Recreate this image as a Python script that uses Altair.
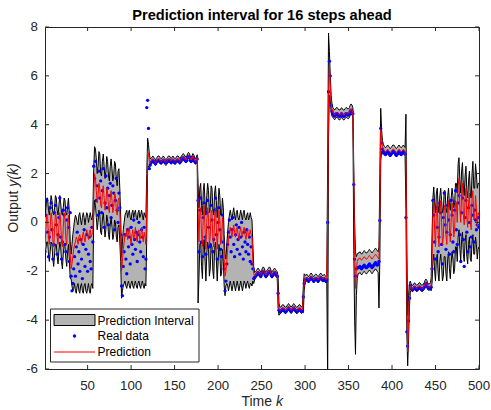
import altair as alt
import pandas as pd

# ---------------- data ----------------
title_text = "Prediction interval for 16 steps ahead"
legend_labels = ["Prediction Interval", "Real data", "Prediction"]
x_ticks = [50, 100, 150, 200, 250, 300, 350, 400, 450, 500]
y_ticks = [-6, -4, -2, 0, 2, 4, 6, 8]
x_range = [1, 500]
y_range = [-6, 8]

# first time step k of each operating segment
seg_start = [1, 31, 57, 89, 118, 177, 209, 240, 269, 298, 326, 356, 386, 417, 446]

pred_A = [-0.9, -0.3, 0.3, 0.2, -0.6, -0.9, -0.2, 0.4, 0.1, -0.7,
          -1.0, -0.3, 0.4, 0.2, -0.6, -0.9, -0.1, 0.4, 0.0, -0.8,
          -1.0, -0.2, 0.4, 0.1, -0.7, -0.9, -0.1, 0.3, -0.5, -1.3]
upper_A = [0.2, 0.6, 1.0, 1.0, 0.5, 0.3, 0.7, 1.1, 0.9, 0.4,
           0.3, 0.6, 1.1, 1.0, 0.5, 0.3, 0.7, 1.1, 0.8, 0.4,
           0.3, 0.6, 1.0, 0.9, 0.4, 0.3, 0.7, 1.0, 0.4, -0.8]
lower_A = [-1.4, -1.1, -0.8, -0.8, -1.3, -1.6, -1.2, -0.8, -0.9, -1.5,
           -1.8, -1.3, -0.9, -0.9, -1.4, -1.7, -1.2, -0.8, -1.0, -1.6,
           -1.9, -1.3, -0.9, -1.0, -1.5, -1.8, -1.2, -0.9, -1.6, -2.3]
real_A = [-1.2, 0.3, 0.9, -0.4, -1.4, -0.6, 0.6, 0.8, -0.3, -1.5,
          -0.9, 0.4, 0.7, -0.1, -1.3, -0.5, 0.2, 1.0, -0.6, -1.5,
          -0.8, 0.5, 0.3, -0.9, -1.2, 0.1, 0.6, -0.2, -1.6, 0.4]

pred_B = [-1.9, -1.7, -1.4, -1.1, -0.9, -0.8, -0.6, -0.7, -0.9, -0.6,
          -0.5, -0.7, -0.9, -0.6, -0.4, -0.6, -0.8, -0.5, -0.3, -0.5,
          -0.7, -0.4, -0.3, -0.6, -0.5, -0.4]
upper_B = [-1.3, -0.9, -0.5, -0.2, 0.1, 0.3, 0.2, 0.0, -0.1, 0.3,
           0.4, 0.1, -0.1, 0.2, 0.4, 0.2, -0.1, 0.2, 0.4, 0.3,
           0.0, 0.2, 0.4, 0.2, 0.1, 0.4]
lower_B = [-2.3, -2.6, -2.8, -2.7, -2.5, -2.8, -2.9, -2.6, -2.5, -2.8,
           -2.9, -2.6, -2.5, -2.8, -2.9, -2.6, -2.5, -2.8, -2.9, -2.7,
           -2.5, -2.8, -2.9, -2.6, -2.5, -2.7]
real_B = [-2.2, -2.8, -2.5, -1.9, -1.4, -2.2, -1.0, -0.4, -1.7, -1.2,
          -2.0, -0.7, -1.5, -2.3, -0.9, -0.3, -1.8, -1.1, -0.5, -2.0,
          -1.3, -0.6, -1.6, -1.9, -0.2, -0.8]

pred_C = [1.2, 2.0, 1.8, 1.3, 0.8, 1.1, 1.6, 1.4, 0.7, 0.6,
          1.2, 1.5, 1.0, 0.5, 0.8, 1.4, 1.2, 0.6, 0.4, 1.0,
          1.3, 0.9, 0.4, 0.6, 1.2, 1.1, 0.5, 0.3, 0.9, 1.0,
          0.4, -0.4]
upper_C = [2.2, 3.1, 3.0, 2.6, 2.0, 2.3, 2.9, 2.8, 2.0, 1.9,
           2.5, 2.8, 2.3, 1.8, 2.1, 2.7, 2.5, 1.9, 1.7, 2.3,
           2.6, 2.2, 1.7, 1.9, 2.5, 2.4, 1.8, 1.5, 2.1, 2.2,
           1.4, 0.3]
lower_C = [0.2, 0.9, 0.7, 0.2, -0.3, 0.0, 0.5, 0.3, -0.4, -0.5,
           0.1, 0.4, -0.1, -0.6, -0.3, 0.3, 0.1, -0.5, -0.7, -0.1,
           0.2, -0.2, -0.7, -0.5, 0.1, 0.0, -0.6, -0.8, -0.2, -0.1,
           -0.8, -1.6]
real_C = [2.3, 1.8, 2.5, 0.9, 1.5, 0.3, 2.1, 1.0, 1.7, 0.4,
          1.3, 2.2, -0.2, 0.8, 1.9, 0.6, 1.4, -0.1, 1.1, 1.6,
          0.2, 0.7, 1.5, 1.2, -0.3, 0.9, 1.8, 0.5, 0.0, 1.2,
          0.6, -0.5]

pred_D = [-2.0, -1.6, -1.1, -0.8, -0.5, -0.6, -0.3, -0.7, -0.4, -0.2,
          -0.6, -0.9, -0.5, -0.3, -0.7, -0.5, -0.2, -0.6, -0.8, -0.4,
          -0.3, -0.7, -0.6, -0.2, -0.5, -0.8, -0.4, -0.6, -0.9]
upper_D = [-1.4, -0.8, -0.3, 0.0, 0.3, 0.4, 0.5, 0.2, 0.4, 0.5,
           0.2, 0.1, 0.4, 0.5, 0.2, 0.4, 0.5, 0.2, 0.1, 0.4,
           0.5, 0.2, 0.3, 0.5, 0.3, 0.1, 0.4, 0.3, 0.2]
lower_D = [-3.1, -2.8, -2.6, -2.5, -2.4, -2.6, -2.7, -2.5, -2.4, -2.6,
           -2.7, -2.5, -2.4, -2.6, -2.7, -2.5, -2.4, -2.6, -2.7, -2.5,
           -2.4, -2.6, -2.7, -2.5, -2.4, -2.6, -2.7, -2.5, -2.6]
real_D = [-2.6, -3.0, -1.8, -1.2, -0.5, -1.5, -2.1, -0.3, -1.0, -0.6,
          -1.7, -0.2, -0.9, -1.3, 0.1, -0.7, -1.1, -0.4, -1.6, -0.5,
          0.0, -0.8, -1.2, -0.3, -0.6, -1.4, -0.2, -1.9, -1.5]

pred_E = [0.8, 2.9, 2.8, 2.5, 2.45,
          2.5, 2.55, 2.6, 2.55, 2.5, 2.45, 2.5, 2.55, 2.6, 2.6,
          2.55, 2.5, 2.5, 2.55, 2.6, 2.55, 2.5, 2.45, 2.5, 2.55,
          2.6, 2.6, 2.55, 2.5, 2.55, 2.6, 2.55, 2.5, 2.5, 2.55,
          2.6, 2.6, 2.55, 2.5, 2.55, 2.6, 2.65, 2.7, 2.65, 2.6,
          2.55, 2.6, 2.7, 2.75, 2.7, 2.6, 2.55, 2.6, 2.7, 2.65,
          2.55, 2.5, 2.55, 2.65]
upper_E = [2.0, 3.45, 3.2, 2.8, 2.6,
           2.62, 2.67, 2.72, 2.67, 2.62, 2.57, 2.62, 2.67, 2.72, 2.72,
           2.67, 2.62, 2.62, 2.67, 2.72, 2.67, 2.62, 2.57, 2.62, 2.67,
           2.72, 2.72, 2.67, 2.62, 2.67, 2.72, 2.67, 2.62, 2.62, 2.67,
           2.72, 2.72, 2.67, 2.62, 2.67, 2.72, 2.77, 2.82, 2.77, 2.72,
           2.67, 2.72, 2.82, 2.87, 2.82, 2.72, 2.67, 2.72, 2.82, 2.77,
           2.67, 2.62, 2.67, 2.77]
lower_E = [-0.6, 2.2, 2.3, 2.25, 2.32,
           2.38, 2.43, 2.48, 2.43, 2.38, 2.33, 2.38, 2.43, 2.48, 2.48,
           2.43, 2.38, 2.38, 2.43, 2.48, 2.43, 2.38, 2.33, 2.38, 2.43,
           2.48, 2.48, 2.43, 2.38, 2.43, 2.48, 2.43, 2.38, 2.38, 2.43,
           2.48, 2.48, 2.43, 2.38, 2.43, 2.48, 2.53, 2.58, 2.53, 2.48,
           2.43, 2.48, 2.58, 2.63, 2.58, 2.48, 2.43, 2.48, 2.58, 2.53,
           2.43, 2.38, 2.43, 2.53]
real_E = [4.7, 5.0, 3.85, 2.2, 2.35,
          2.45, 2.5, 2.55, 2.5, 2.45, 2.4, 2.5, 2.5, 2.55, 2.55,
          2.5, 2.45, 2.5, 2.5, 2.55, 2.5, 2.45, 2.45, 2.5, 2.5,
          2.55, 2.55, 2.5, 2.45, 2.5, 2.55, 2.5, 2.45, 2.5, 2.5,
          2.55, 2.55, 2.5, 2.45, 2.5, 2.6, 2.6, 2.65, 2.6, 2.55,
          2.5, 2.55, 2.65, 2.7, 2.65, 2.55, 2.5, 2.55, 2.65, 2.6,
          2.5, 2.45, 2.5, 2.6]

pred_F = [0.5, -0.8, 0.4, 0.6, -0.5, -1.0, 0.3, 0.7, -0.3, -1.1,
          0.0, 0.6, 0.2, -0.9, -0.6, 0.5, 0.4, -0.7, -1.0, 0.2,
          0.6, -0.2, -1.1, -0.4, 0.5, 0.1, -0.9, -0.8, 0.2, -0.3,
          -1.5, -2.2]
upper_F = [1.6, 0.6, 1.4, 1.6, 0.7, 0.3, 1.3, 1.6, 0.8, 0.3,
           1.1, 1.6, 1.3, 0.4, 0.6, 1.5, 1.4, 0.5, 0.3, 1.2,
           1.5, 0.9, 0.2, 0.7, 1.4, 1.1, 0.3, 0.3, 1.0, 0.6,
           -0.5, -1.3]
lower_F = [-3.3, -2.3, -0.9, -0.8, -1.8, -2.3, -1.0, -0.7, -1.6, -2.4,
           -1.3, -0.8, -1.1, -2.2, -1.9, -0.9, -1.0, -2.0, -2.3, -1.1,
           -0.8, -1.5, -2.4, -1.7, -0.9, -1.2, -2.2, -2.1, -1.1, -1.6,
           -2.6, -3.0]
real_F = [0.9, -1.2, 0.5, 1.0, -0.8, -1.4, 0.2, 0.8, -0.6, -1.3,
          0.4, 0.9, -0.2, -1.0, -0.9, 0.7, 0.1, -1.2, -0.7, 0.5,
          1.0, -0.5, -1.5, 0.0, 0.6, -0.3, -1.1, -1.4, 0.3, -0.8,
          -1.9, -2.8]

pred_G = [-2.0, -1.6, -1.1, -0.7, -0.4, -0.2, -0.4, -0.6, -0.3, -0.1,
          -0.4, -0.6, -0.3, -0.2, -0.5, -0.7, -0.4, -0.2, -0.5, -0.6,
          -0.3, -0.2, -0.5, -0.7, -0.4, -0.3, -0.6, -0.5, -0.3, -0.5,
          -0.6]
upper_G = [-1.5, -0.9, -0.4, 0.0, 0.3, 0.5, 0.3, 0.1, 0.4, 0.6,
           0.3, 0.1, 0.4, 0.5, 0.2, 0.1, 0.3, 0.5, 0.3, 0.1,
           0.4, 0.5, 0.2, 0.1, 0.3, 0.4, 0.1, 0.2, 0.4, 0.2,
           0.1]
lower_G = [-2.6, -2.5, -2.6, -2.8, -2.6, -2.4, -2.6, -2.8, -2.6, -2.4,
           -2.6, -2.8, -2.6, -2.4, -2.6, -2.8, -2.6, -2.4, -2.6, -2.8,
           -2.6, -2.4, -2.5, -2.7, -2.5, -2.4, -2.6, -2.7, -2.5, -2.5,
           -2.6]
real_G = [-2.4, -1.7, -0.9, -0.4, 0.1, -0.6, -1.2, -0.3, 0.2, -0.9,
          -1.4, -0.5, -0.1, -1.1, -0.7, -0.2, -1.3, -0.6, 0.0, -1.0,
          -1.5, -0.4, -0.8, -1.2, -0.3, -0.9, -1.3, -0.6, -1.6, -1.0,
          -1.7]

pred_H = [-1.6, -2.1, -2.2, -2.15, -2.1, -2.05, -2.0, -2.05, -2.1, -2.15,
          -2.1, -2.0, -1.95, -2.0, -2.1, -2.15, -2.1, -2.05, -2.0, -1.95,
          -2.0, -2.1, -2.15, -2.1, -2.05, -2.0, -2.05, -2.1, -2.15]
upper_H = [-0.9, -1.8, -2.05, -2.02, -1.97, -1.92, -1.87, -1.92, -1.97, -2.02,
           -1.97, -1.87, -1.82, -1.87, -1.97, -2.02, -1.97, -1.92, -1.87, -1.82,
           -1.87, -1.97, -2.02, -1.97, -1.92, -1.87, -1.92, -1.97, -2.02]
lower_H = [-2.4, -2.5, -2.35, -2.28, -2.23, -2.18, -2.13, -2.18, -2.23, -2.28,
           -2.23, -2.13, -2.08, -2.13, -2.23, -2.28, -2.23, -2.18, -2.13, -2.08,
           -2.13, -2.23, -2.28, -2.23, -2.18, -2.13, -2.18, -2.23, -2.28]
real_H = [-1.9, -2.3, -2.25, -2.2, -2.15, -2.1, -2.05, -2.1, -2.15, -2.2,
          -2.1, -2.05, -2.0, -2.05, -2.15, -2.2, -2.15, -2.1, -2.05, -2.0,
          -2.05, -2.15, -2.2, -2.15, -2.1, -2.05, -2.1, -2.15, -2.2]

pred_I = [-3.0, -3.5, -3.6, -3.6, -3.55, -3.5, -3.5, -3.55, -3.6, -3.6,
          -3.55, -3.5, -3.45, -3.5, -3.55, -3.6, -3.55, -3.5, -3.45, -3.5,
          -3.55, -3.6, -3.6, -3.55, -3.5, -3.5, -3.55, -3.6, -3.55]
upper_I = [-2.2, -3.3, -3.47, -3.47, -3.42, -3.37, -3.37, -3.42, -3.47, -3.47,
           -3.42, -3.37, -3.32, -3.37, -3.42, -3.47, -3.42, -3.37, -3.32, -3.37,
           -3.42, -3.47, -3.47, -3.42, -3.37, -3.37, -3.42, -3.47, -3.42]
lower_I = [-3.5, -3.8, -3.73, -3.73, -3.68, -3.63, -3.63, -3.68, -3.73, -3.73,
           -3.68, -3.63, -3.58, -3.63, -3.68, -3.73, -3.68, -3.63, -3.58, -3.63,
           -3.68, -3.73, -3.73, -3.68, -3.63, -3.63, -3.68, -3.73, -3.68]
real_I = [-2.9, -3.6, -3.65, -3.65, -3.6, -3.55, -3.55, -3.6, -3.65, -3.65,
          -3.6, -3.55, -3.5, -3.55, -3.6, -3.65, -3.6, -3.55, -3.5, -3.55,
          -3.6, -3.65, -3.65, -3.6, -3.55, -3.55, -3.6, -3.65, -3.6]

pred_J = [-3.0, -2.45, -2.3, -2.3, -2.25, -2.3, -2.35, -2.3, -2.25, -2.2,
          -2.25, -2.3, -2.35, -2.3, -2.25, -2.25, -2.3, -2.35, -2.3, -2.25,
          -2.2, -2.25, -2.3, -2.3, -2.25, -2.3, -2.35, -2.3]
upper_J = [-2.6, -2.1, -2.15, -2.17, -2.12, -2.17, -2.22, -2.17, -2.12, -2.07,
           -2.12, -2.17, -2.22, -2.17, -2.12, -2.12, -2.17, -2.22, -2.17, -2.12,
           -2.07, -2.12, -2.17, -2.17, -2.12, -2.17, -2.22, -2.17]
lower_J = [-3.7, -2.8, -2.45, -2.43, -2.38, -2.43, -2.48, -2.43, -2.38, -2.33,
           -2.38, -2.43, -2.48, -2.43, -2.38, -2.38, -2.43, -2.48, -2.43, -2.38,
           -2.33, -2.38, -2.43, -2.43, -2.38, -2.43, -2.48, -2.43]
real_J = [-3.05, -2.5, -2.35, -2.35, -2.3, -2.35, -2.4, -2.35, -2.3, -2.25,
          -2.3, -2.35, -2.4, -2.35, -2.3, -2.3, -2.35, -2.4, -2.35, -2.3,
          -2.25, -2.3, -2.35, -2.35, -2.3, -2.35, -2.4, -2.35]

pred_K = [0.3, 5.0, 6.4, 5.6, 4.9, 4.6, 4.5, 4.45, 4.4, 4.45,
          4.5, 4.5, 4.45, 4.4, 4.4, 4.45, 4.5, 4.45, 4.4, 4.4,
          4.45, 4.5, 4.5, 4.45, 4.45, 4.5, 4.6, 4.65, 4.6, 4.5]
upper_K = [2.5, 7.75, 7.0, 6.0, 5.2, 4.85, 4.7, 4.65, 4.6, 4.65,
           4.7, 4.7, 4.65, 4.6, 4.6, 4.65, 4.7, 4.65, 4.6, 4.6,
           4.65, 4.7, 4.7, 4.65, 4.65, 4.7, 4.8, 4.85, 4.8, 4.7]
lower_K = [-6.5, 3.5, 5.2, 5.0, 4.5, 4.35, 4.3, 4.25, 4.2, 4.25,
           4.3, 4.3, 4.25, 4.2, 4.2, 4.25, 4.3, 4.25, 4.2, 4.2,
           4.25, 4.3, 4.3, 4.25, 4.25, 4.3, 4.4, 4.45, 4.4, 4.3]
real_K = [0.0, 5.35, 6.6, 6.0, 4.8, 4.55, 4.45, 4.4, 4.35, 4.4,
          4.45, 4.45, 4.4, 4.35, 4.35, 4.4, 4.45, 4.4, 4.35, 4.35,
          4.4, 4.45, 4.45, 4.4, 4.4, 4.45, 4.55, 4.6, 4.55, 4.45]

pred_L = [1.8, -1.2, -2.7, -1.9, -1.6, -1.5, -1.5, -1.45, -1.5, -1.55,
          -1.5, -1.45, -1.4, -1.45, -1.5, -1.5, -1.45, -1.4, -1.35, -1.4,
          -1.45, -1.5, -1.45, -1.4, -1.35, -1.3, -1.35, -1.4, -1.45, -1.5]
upper_L = [2.3, 0.0, -1.2, -1.4, -1.3, -1.25, -1.25, -1.2, -1.25, -1.3,
           -1.25, -1.2, -1.15, -1.2, -1.25, -1.25, -1.2, -1.15, -1.1, -1.15,
           -1.2, -1.25, -1.2, -1.15, -1.1, -1.05, -1.1, -1.15, -1.2, -1.0]
lower_L = [-1.0, -4.0, -5.4, -3.0, -2.3, -2.1, -2.1, -2.05, -2.1, -2.15,
           -2.1, -2.05, -2.0, -2.05, -2.1, -2.1, -2.05, -2.0, -1.95, -2.0,
           -2.05, -2.1, -2.05, -2.0, -1.95, -1.9, -1.95, -2.0, -2.05, -3.5]
real_L = [1.55, -1.5, -2.2, -1.9, -1.85, -1.85, -1.85, -1.8, -1.85, -1.9,
          -1.85, -1.8, -1.75, -1.8, -1.85, -1.85, -1.8, -1.75, -1.7, -1.75,
          -1.8, -1.85, -1.8, -1.75, -1.7, -1.65, -1.7, -1.75, -1.7, -1.6]

pred_M = [0.5, 3.8, 3.4, 3.1, 3.0, 2.95, 2.9, 2.9, 2.95, 3.0,
          2.95, 2.9, 2.85, 2.9, 2.95, 3.0, 3.0, 2.95, 2.9, 2.85,
          2.9, 2.95, 3.0, 2.95, 2.9, 2.9, 2.95, 3.0, 2.95, 2.9,
          2.5]
upper_M = [2.0, 4.67, 3.8, 3.35, 3.2, 3.12, 3.07, 3.07, 3.12, 3.17,
           3.12, 3.07, 3.02, 3.07, 3.12, 3.17, 3.17, 3.12, 3.07, 3.02,
           3.07, 3.12, 3.17, 3.12, 3.07, 3.07, 3.12, 3.17, 3.12, 3.07,
           4.43]
lower_M = [-1.5, 2.5, 2.9, 2.8, 2.8, 2.78, 2.73, 2.73, 2.78, 2.83,
           2.78, 2.73, 2.68, 2.73, 2.78, 2.83, 2.83, 2.78, 2.73, 2.68,
           2.73, 2.78, 2.83, 2.78, 2.73, 2.73, 2.78, 2.83, 2.78, 2.73,
           0.5]
real_M = [0.08, 3.85, 3.25, 3.0, 2.9, 2.85, 2.8, 2.8, 2.85, 2.9,
          2.85, 2.8, 2.75, 2.8, 2.85, 2.9, 2.9, 2.85, 2.8, 2.75,
          2.8, 2.85, 2.9, 2.85, 2.8, 2.8, 2.85, 2.9, 2.85, 2.8,
          0.2]

pred_N = [-2.5, -5.3, -4.0, -3.0, -2.6, -2.65, -2.7, -2.7, -2.65, -2.6,
          -2.65, -2.7, -2.7, -2.65, -2.6, -2.6, -2.65, -2.7, -2.7, -2.65,
          -2.6, -2.5, -2.45, -2.5, -2.6, -2.65, -2.65, -2.6, -2.6]
upper_N = [-0.8, -3.8, -3.0, -2.5, -2.4, -2.52, -2.57, -2.57, -2.52, -2.47,
           -2.52, -2.57, -2.57, -2.52, -2.47, -2.47, -2.52, -2.57, -2.57, -2.52,
           -2.47, -2.37, -2.32, -2.37, -2.47, -2.52, -2.52, -2.47, -2.3]
lower_N = [-4.5, -5.87, -4.8, -3.5, -2.85, -2.78, -2.83, -2.83, -2.78, -2.73,
           -2.78, -2.83, -2.83, -2.78, -2.73, -2.73, -2.78, -2.83, -2.83, -2.78,
           -2.73, -2.63, -2.58, -2.63, -2.73, -2.78, -2.78, -2.73, -2.8]
real_N = [-4.48, -5.06, -4.03, -3.1, -2.6, -2.7, -2.75, -2.75, -2.7, -2.65,
          -2.7, -2.75, -2.75, -2.7, -2.65, -2.65, -2.7, -2.75, -2.75, -2.7,
          -2.65, -2.55, -2.5, -2.55, -2.65, -2.7, -2.7, -2.65, -2.65]

pred_O = [-1.5, 0.2, 0.9, -0.3, -1.0, 0.5, 0.8, -0.4, -1.0, 0.3,
          0.9, 0.0, -0.9, -0.6, 0.7, 0.6, -0.5, -0.9, 0.4, 0.9,
          -0.2, -0.8, 0.1, 0.8, 0.3, -0.6, -0.3, 0.9, 0.8, 0.0,
          1.5, 1.8, 0.6, 0.0, 1.2, 1.6, 0.3, -0.1, 1.0, 1.4,
          0.2, -0.2, 0.8, 1.2, 0.0, -0.3, 1.0, 1.3, 0.1, 0.2,
          1.1, 0.6, -0.2, 0.4, 0.3]
upper_O = [-0.5, 1.0, 1.45, 0.8, 0.4, 1.2, 1.4, 0.7, 0.4, 1.1,
           1.4, 0.9, 0.4, 0.5, 1.3, 1.3, 0.6, 0.4, 1.1, 1.4,
           0.8, 0.5, 1.0, 1.4, 1.1, 0.6, 0.8, 1.6, 1.6, 1.2,
           2.4, 2.65, 1.7, 1.2, 2.1, 2.45, 1.5, 1.1, 1.9, 2.3,
           1.3, 1.0, 1.7, 2.1, 1.2, 1.0, 2.0, 2.5, 1.4, 1.4,
           2.4, 2.0, 1.4, 1.6, 1.6]
lower_O = [-2.5, -1.6, -1.3, -2.0, -2.4, -1.5, -1.3, -2.1, -2.4, -1.6,
           -1.3, -1.8, -2.4, -2.2, -1.4, -1.4, -2.1, -2.4, -1.5, -1.2,
           -1.9, -2.3, -1.7, -1.2, -1.5, -2.1, -1.9, -1.0, -1.0, -1.6,
           -0.6, -0.3, -1.1, -1.6, -0.7, -0.4, -1.3, -1.6, -0.8, -0.5,
           -1.4, -1.7, -0.9, -0.6, -1.5, -1.6, -0.8, -0.5, -1.3, -1.3,
           -0.6, -0.9, -1.5, -1.1, -1.0]
real_O = [-1.9, 0.9, 0.3, -0.8, -1.5, 0.6, -0.2, -1.2, -0.6, 0.8,
          0.4, -0.9, -1.7, 0.2, 1.2, -0.1, -1.1, -0.4, 0.7, 0.1,
          -1.3, -0.5, 0.9, 0.3, -0.8, -1.2, 0.5, 1.3, -0.3, -0.9,
          0.8, 1.1, -0.5, -1.6, 0.4, 1.0, -0.7, -1.8, 0.2, 0.9,
          -0.4, -1.2, 0.6, 0.0, -1.0, -0.6, 0.7, 0.3, -0.8, 0.5,
          0.1, -0.3, -0.1, 0.2, -0.2]

segments = [
    (pred_A, real_A, lower_A, upper_A), (pred_B, real_B, lower_B, upper_B),
    (pred_C, real_C, lower_C, upper_C), (pred_D, real_D, lower_D, upper_D),
    (pred_E, real_E, lower_E, upper_E), (pred_F, real_F, lower_F, upper_F),
    (pred_G, real_G, lower_G, upper_G), (pred_H, real_H, lower_H, upper_H),
    (pred_I, real_I, lower_I, upper_I), (pred_J, real_J, lower_J, upper_J),
    (pred_K, real_K, lower_K, upper_K), (pred_L, real_L, lower_L, upper_L),
    (pred_M, real_M, lower_M, upper_M), (pred_N, real_N, lower_N, upper_N),
    (pred_O, real_O, lower_O, upper_O),
]

rows = []
for i, (s, (p, r, lo, up)) in enumerate(zip(seg_start, segments)):
    end = seg_start[i + 1] if i + 1 < len(seg_start) else x_range[1] + 1
    n = min(len(p), len(r), len(lo), len(up), end - s)
    for j in range(n):
        rows.append({"k": s + j, "pred": p[j], "real": r[j],
                     "lower": lo[j], "upper": up[j]})
df = pd.DataFrame(rows)

# ---------------- style / layout ----------------
W, H = 434, 342
FONT = "Liberation Sans"
INK = "#262626"
GREY = "#b3b3b3"
BLUE = "#0000ff"
RED = "#ff0000"
LABEL_SIZE = 13.3

xs = alt.Scale(domain=x_range, nice=False, zero=False)
ys = alt.Scale(domain=y_range, nice=False, zero=False)


def X(field):
    return alt.X(field, scale=xs, axis=None)


def Y(field):
    return alt.Y(field, scale=ys, axis=None)


base = alt.Chart(df)
band = base.mark_area(color=GREY, opacity=1, clip=True).encode(
    x=X("k:Q"), y=Y("lower:Q"), y2="upper:Q")
lower_line = base.mark_line(color="black", strokeWidth=1, clip=True).encode(
    x=X("k:Q"), y=Y("lower:Q"))
upper_line = base.mark_line(color="black", strokeWidth=1, clip=True).encode(
    x=X("k:Q"), y=Y("upper:Q"))
dots = base.mark_circle(color=BLUE, size=11, opacity=1, clip=True).encode(
    x=X("k:Q"), y=Y("real:Q"))
pred_line = base.mark_line(color=RED, strokeWidth=1, clip=True).encode(
    x=X("k:Q"), y=Y("pred:Q"))

# tick marks (inward, all four sides) and tick labels, placed through the scales
xt = pd.DataFrame({"tick": x_ticks, "label": [str(v) for v in x_ticks]})
yt = pd.DataFrame({"tick": y_ticks, "label": [str(v) for v in y_ticks]})
TL = 4
bottom_ticks = alt.Chart(xt).mark_rule(color=INK, strokeWidth=1).encode(
    x=X("tick:Q"), y=alt.value(H), y2=alt.value(H - TL))
top_ticks = alt.Chart(xt).mark_rule(color=INK, strokeWidth=1).encode(
    x=X("tick:Q"), y=alt.value(0), y2=alt.value(TL))
left_ticks = alt.Chart(yt).mark_rule(color=INK, strokeWidth=1).encode(
    y=Y("tick:Q"), x=alt.value(0), x2=alt.value(TL))
right_ticks = alt.Chart(yt).mark_rule(color=INK, strokeWidth=1).encode(
    y=Y("tick:Q"), x=alt.value(W), x2=alt.value(W - TL))
x_labels = alt.Chart(xt).mark_text(font=FONT, fontSize=LABEL_SIZE, color=INK,
                                   align="center", baseline="top").encode(
    x=X("tick:Q"), y=alt.value(H + 10), text="label:N")
y_labels = alt.Chart(yt).mark_text(font=FONT, fontSize=LABEL_SIZE, color=INK,
                                   align="right", baseline="middle").encode(
    y=Y("tick:Q"), x=alt.value(-7), text="label:N")

one = pd.DataFrame({"a": [0]})
# legend (drawn by hand: box, swatches, labels)
leg_box = alt.Chart(one).mark_rect(fill="white", stroke=INK, strokeWidth=1).encode(
    x=alt.value(5.5), x2=alt.value(154), y=alt.value(282), y2=alt.value(335))
leg_patch = alt.Chart(one).mark_rect(fill=GREY, stroke="black", strokeWidth=1).encode(
    x=alt.value(9), x2=alt.value(50), y=alt.value(287.5), y2=alt.value(298.5))
leg_dot = alt.Chart(one).mark_circle(color=BLUE, size=11, opacity=1).encode(
    x=alt.value(29.5), y=alt.value(309))
leg_line = alt.Chart(one).mark_rule(color=RED, strokeWidth=1).encode(
    x=alt.value(9), x2=alt.value(50), y=alt.value(325))
leg_text = [
    alt.Chart(one).mark_text(text=lab, font=FONT, fontSize=12, color="black",
                             align="left", baseline="middle").encode(
        x=alt.value(52.5), y=alt.value(yy))
    for lab, yy in zip(legend_labels, [293.5, 309, 325])
]

# titles (mixed upright / italic pieces)
title_mark = alt.Chart(one).mark_text(text=title_text, font=FONT, fontSize=14.6,
                                      fontWeight="bold", color="black", align="center",
                                      baseline="alphabetic").encode(
    x=alt.value(W / 2), y=alt.value(-7))
xt_a = alt.Chart(one).mark_text(text="Time", font=FONT, fontSize=14, color=INK,
                                align="right", baseline="middle").encode(
    x=alt.value(227), y=alt.value(375))
xt_b = alt.Chart(one).mark_text(text="k", font=FONT, fontSize=14, fontStyle="italic",
                                color=INK, align="left", baseline="middle").encode(
    x=alt.value(231), y=alt.value(375))
yt_a = alt.Chart(one).mark_text(text="Output", font=FONT, fontSize=14, color=INK,
                                align="right", baseline="middle", angle=270).encode(
    x=alt.value(-31), y=alt.value(163.6))
yt_b = alt.Chart(one).mark_text(text="y(k)", font=FONT, fontSize=14, fontStyle="italic",
                                color=INK, align="left", baseline="middle", angle=270).encode(
    x=alt.value(-31), y=alt.value(159.7))

chart = alt.layer(
    band, lower_line, upper_line, dots, pred_line,
    bottom_ticks, top_ticks, left_ticks, right_ticks, x_labels, y_labels,
    leg_box, leg_patch, leg_dot, leg_line, *leg_text,
    title_mark, xt_a, xt_b, yt_a, yt_b,
).properties(
    width=W, height=H,
    padding={"left": 45, "top": 27, "right": 12, "bottom": 41},
    autosize=alt.AutoSizeParams(type="none"),
    background="white",
).configure_view(stroke=INK, strokeWidth=1)

chart.save("out.html", embed_options={"renderer": "svg", "actions": False})
